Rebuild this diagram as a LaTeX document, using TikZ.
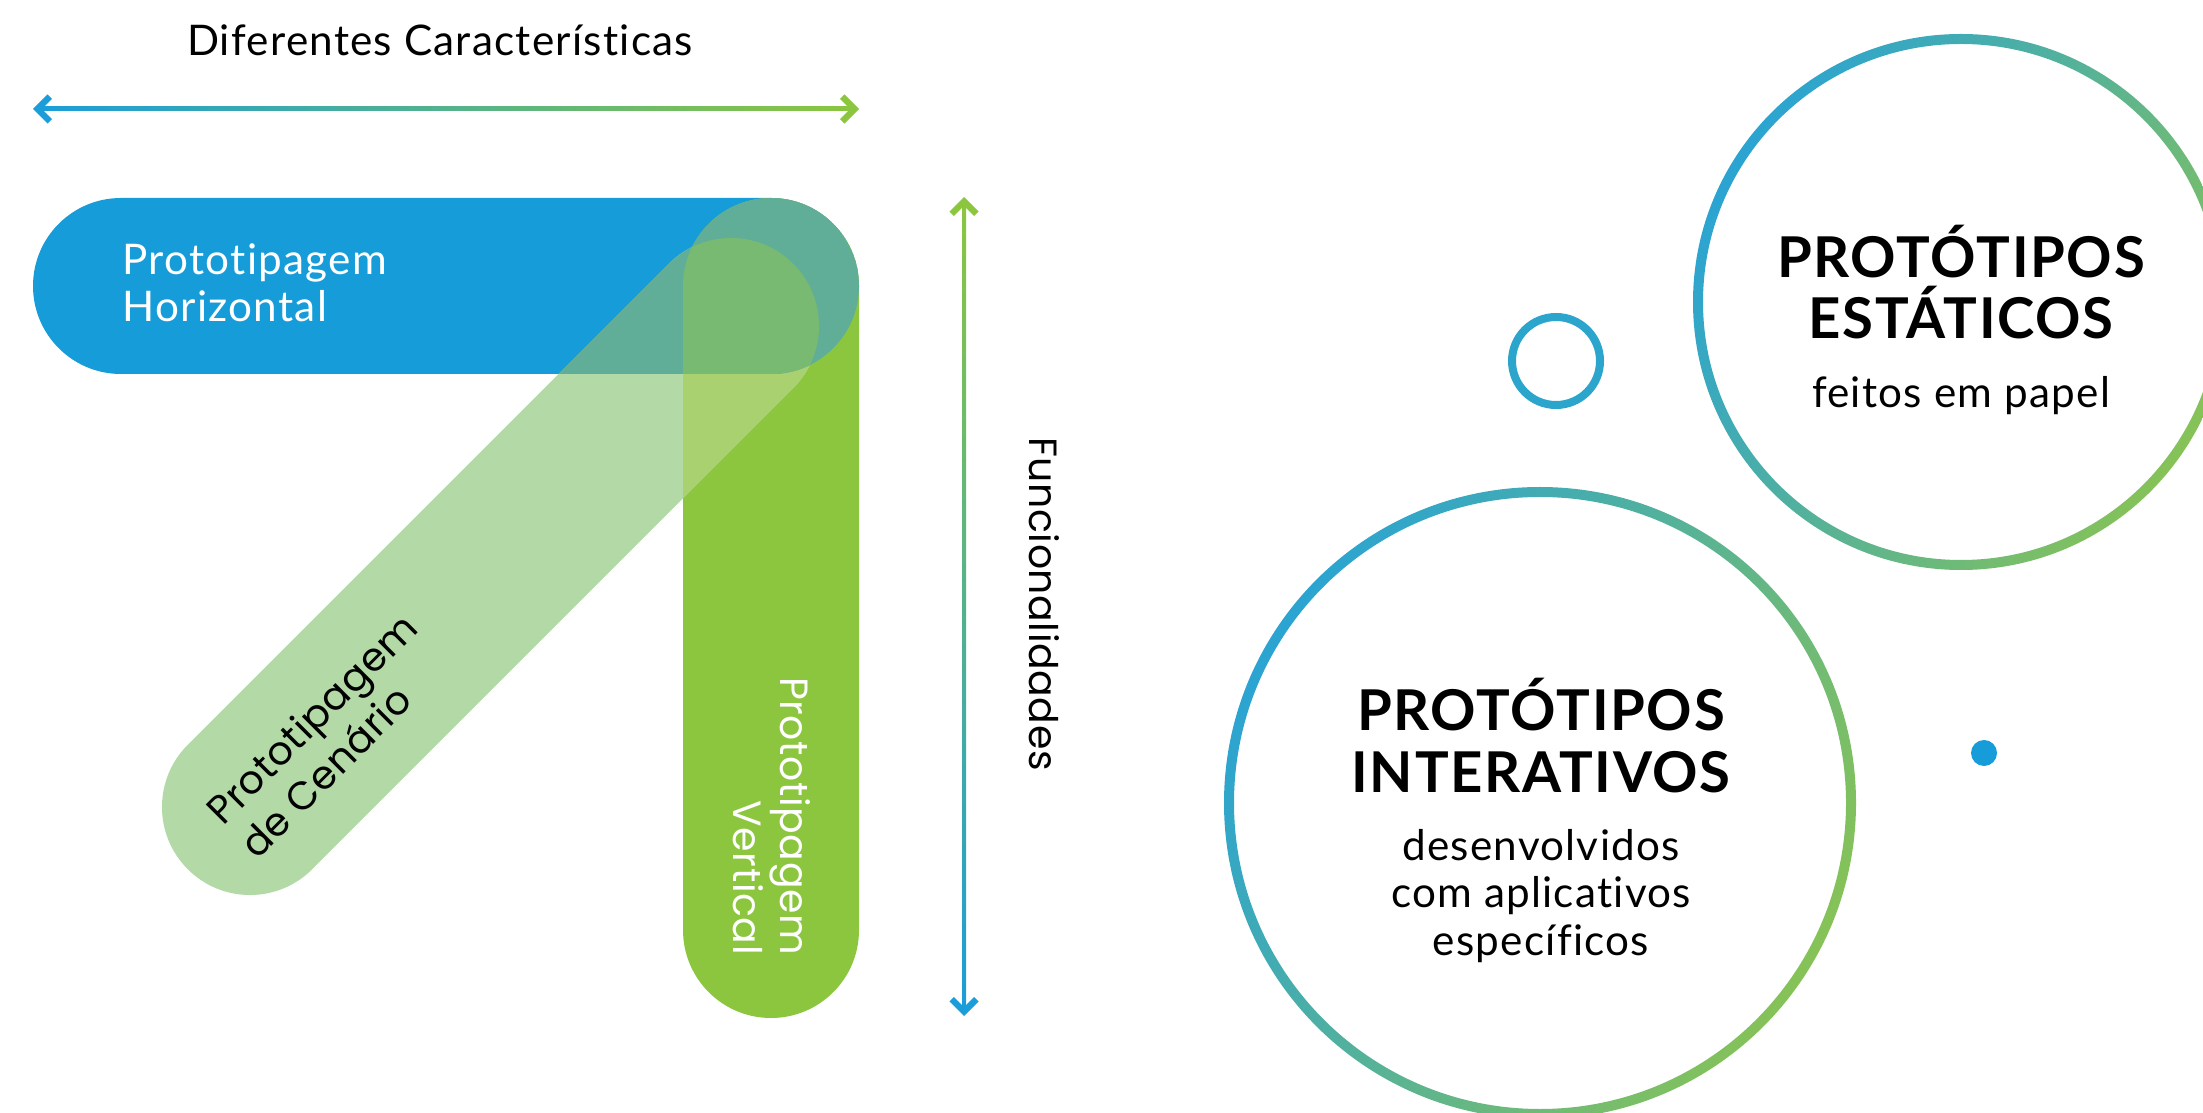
\documentclass[tikz,border=0pt]{standalone}
\usepackage{fontspec}
\setmainfont{Lato}[Ligatures=NoCommon]
\newfontfamily\latofont{Lato}[LetterSpace=3.0, Ligatures=NoCommon]
\newfontfamily\widefont{Poppins}[LetterSpace=1.5]
\usetikzlibrary{arrows.meta,calc}

\definecolor{hblue}{HTML}{169DD9}
\definecolor{vgreen}{HTML}{8CC63F}
\definecolor{dgreen}{HTML}{B3D9A6}
\definecolor{dvgreen}{HTML}{A9D170}
\definecolor{hvteal}{HTML}{60AE97}
\definecolor{hvdgreen}{HTML}{78BA71}
\definecolor{ablue}{HTML}{1B9DD9}
\definecolor{agreen}{HTML}{8CC63F}
\definecolor{rblue}{HTML}{2BA4D2}
\definecolor{rgreen}{HTML}{86C257}
\definecolor{sblue}{HTML}{2CA5CD}

% the three bars (pixel units, y downwards)
\newcommand\hbarpath{(33,198) rectangle (859,374)}
\newcommand\vbarpath{(683,198) rectangle (859,1018)}
\newcommand\dbarpath{(552.725,628.725) -- (250,931.45) -- (125.55,807) -- (731,201.55) -- (855.45,326) -- cycle}

\tikzset{
  bar/.style={rounded corners=0.879cm},
  axislabel/.style={font=\latofont\fontsize{12}{14}\selectfont, inner sep=0pt},
  barlabel/.style={font=\latofont\fontsize{12}{13.4}\selectfont, inner sep=0pt},
  widelabel/.style={font=\widefont\fontsize{11.2}{13.5}\selectfont, inner sep=0pt},
  head/.style={font=\latofont\bfseries\fontsize{16}{17.5}\selectfont, align=center, inner sep=0pt},
  sub/.style={font=\latofont\fontsize{12}{13.5}\selectfont, align=center, inner sep=0pt},
  chevron/.style={line width=0.04cm, arrows={Straight Barb[length=3.5pt, width=7pt, line width=1.8pt]-}},
  ring/.style={even odd rule, top color=rblue, bottom color=rgreen, shading angle=60},
}

\begin{document}
\begin{tikzpicture}[x=0.01cm, y=-0.01cm]
\useasboundingbox (0,0) rectangle (2203,1113);

% bars
\fill[hblue, bar] \hbarpath;
\fill[vgreen, bar] \vbarpath;
\fill[dgreen, bar] \dbarpath;
\begin{scope}
  \clip[bar] \vbarpath;
  \fill[dvgreen, bar] \dbarpath;
\end{scope}
\begin{scope}
  \clip[bar] \hbarpath;
  \fill[hvteal, bar] \vbarpath;
  \fill[hvteal, bar] \dbarpath;
  \clip[bar] \vbarpath;
  \fill[hvdgreen, bar] \dbarpath;
\end{scope}

% axes
\coordinate (hl) at (33,109);
\coordinate (hr) at (859,109);
\coordinate (vt) at (964,197);
\coordinate (vb) at (964,1016);
\shade[left color=ablue, right color=agreen] ($(hl)+(5,-2)$) rectangle ($(hr)+(-5,2)$);
\shade[top color=agreen, bottom color=ablue] ($(vt)+(-2,5)$) rectangle ($(vb)+(2,-5)$);
\draw[ablue, chevron] (hl) -- ($(hl)+(12,0)$);
\draw[agreen, chevron] (hr) -- ($(hr)+(-12,0)$);
\draw[agreen, chevron] (vt) -- ($(vt)+(0,12)$);
\draw[ablue, chevron] (vb) -- ($(vb)+(0,-12)$);

\node[axislabel] (chars) at (440,40) {Diferentes Características};
\node[widelabel, rotate=-90] (funcs) at (1044,604) {Funcionalidades};

% bar labels
\node[barlabel, white, align=left, anchor=base west] (hlabel) at (122,322) {Prototipagem\\Horizontal};
\node[widelabel, align=left, rotate=45] (dlabel) at (328,735) {Prototipagem\\de Cenário};
\node[widelabel, white, align=right, rotate=-90] (vlabel) at (772,816) {Prototipagem\\Vertical};

% circles
\shade[ring] (1961,302) circle[radius=268] (1961,302) circle[radius=258];
\shade[ring] (1540,803) circle[radius=316] (1540,803) circle[radius=306];
\draw[sblue, line width=0.08cm] (1556,361) circle[radius=44];
\fill[hblue] (1984,753) circle[radius=13];

\node[head, anchor=base] (stathead) at (1961,339) {PROTÓTIPOS\\ESTÁTICOS};
\node[sub, anchor=base] (statsub) at (1961,408) {feitos em papel};
\node[head, anchor=base] (inthead) at (1541,792) {PROTÓTIPOS\\INTERATIVOS};
\node[sub, anchor=base] (intsub) at (1541,955) {desenvolvidos\\com aplicativos\\específicos};
\end{tikzpicture}
\end{document}
